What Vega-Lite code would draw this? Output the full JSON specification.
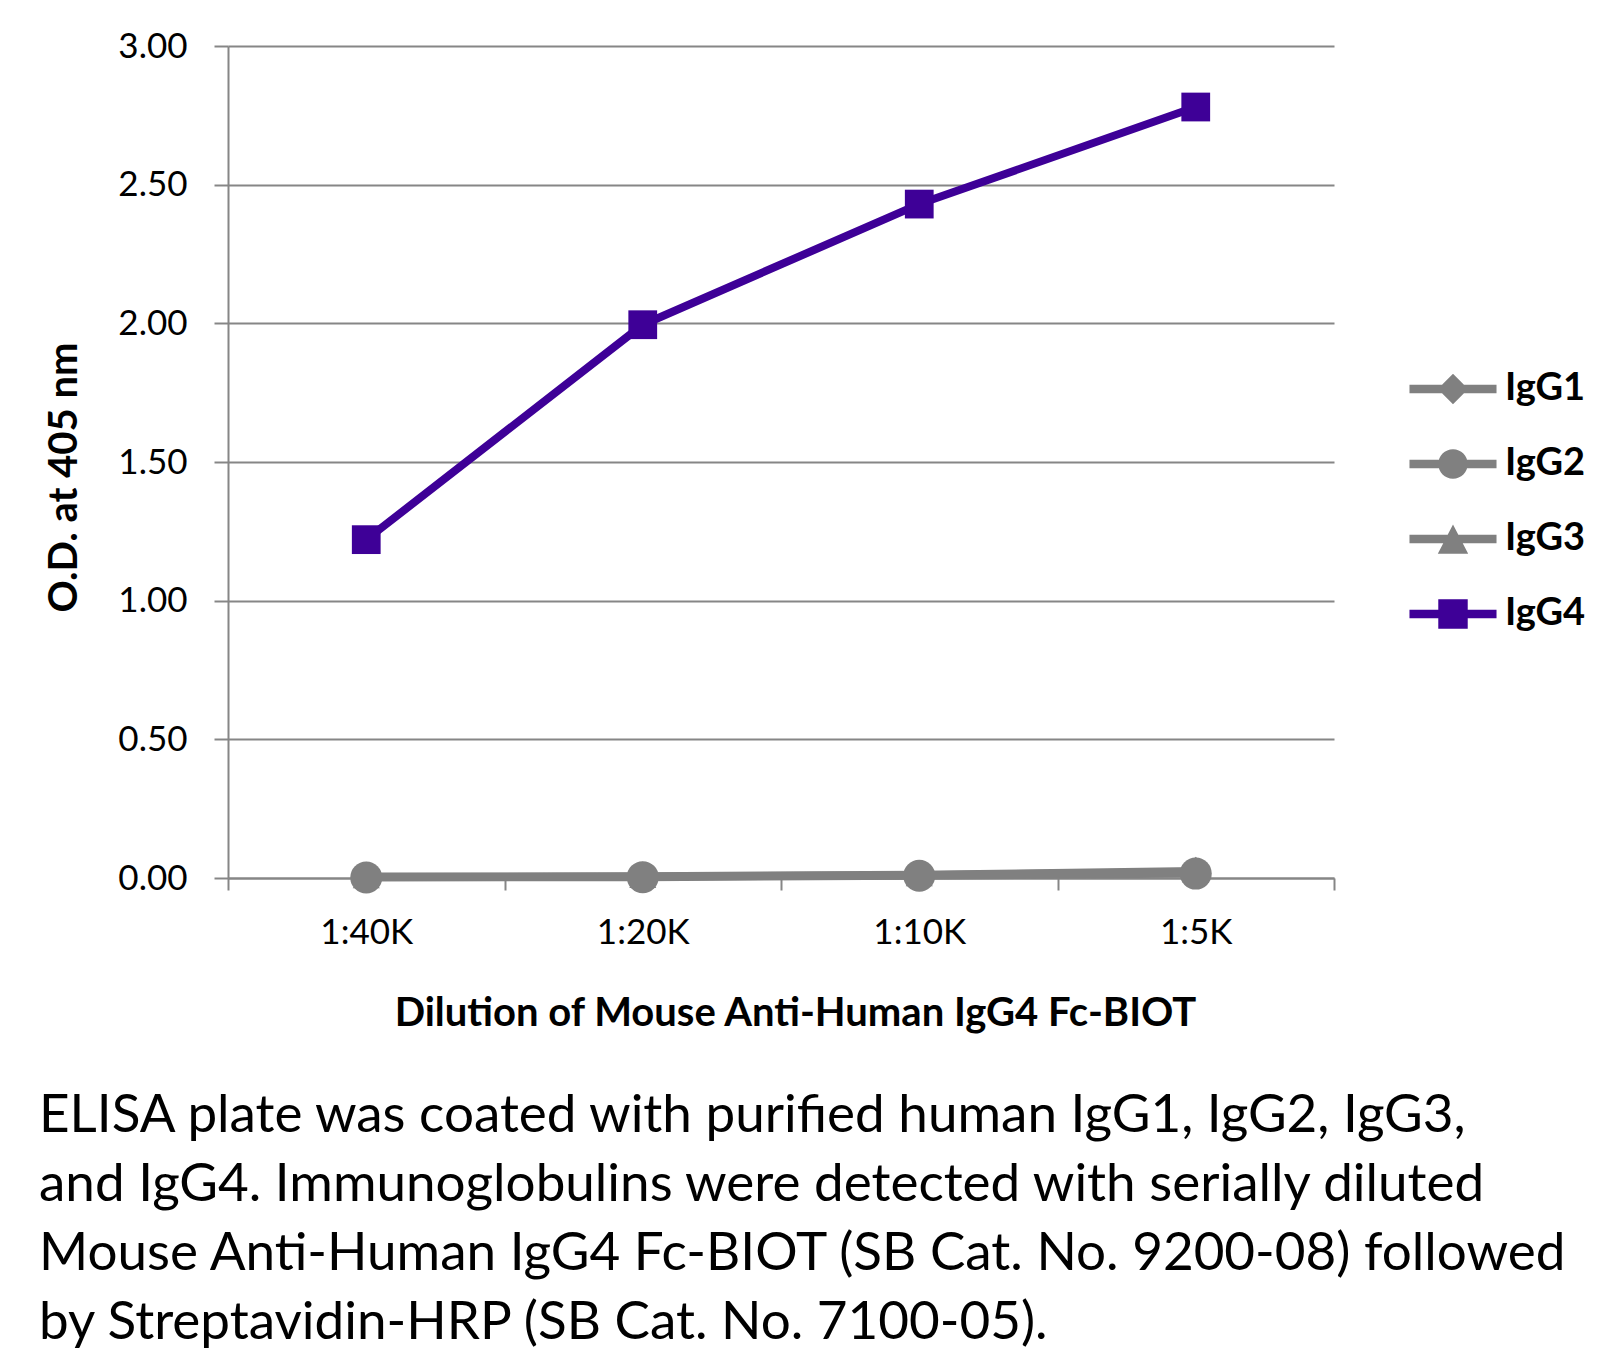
{
  "$schema": "https://vega.github.io/schema/vega-lite/v6.json",
  "width": 1106,
  "height": 832,
  "autosize": {"type": "none"},
  "padding": {"left": 228, "top": 46, "right": 284, "bottom": 478},
  "background": "white",
  "config": {
    "view": {"stroke": null},
    "font": "Lato"
  },
  "title": {
    "text": [
      "ELISA plate was coated with purified human IgG1, IgG2, IgG3,",
      "and IgG4.  Immunoglobulins were detected with serially diluted",
      "Mouse Anti-Human IgG4 Fc-BIOT (SB Cat. No. 9200-08) followed",
      "by Streptavidin-HRP (SB Cat. No. 7100-05)."
    ],
    "orient": "bottom",
    "anchor": "start",
    "frame": "group",
    "font": "Lato",
    "fontSize": 53,
    "fontWeight": "normal",
    "color": "black",
    "lineHeight": 69,
    "offset": 57,
    "dx": -189
  },
  "data": {
    "values": [
      {"dilution": "1:40K", "series": "IgG1", "od": 0.004},
      {"dilution": "1:20K", "series": "IgG1", "od": 0.005},
      {"dilution": "1:10K", "series": "IgG1", "od": 0.010},
      {"dilution": "1:5K", "series": "IgG1", "od": 0.022},
      {"dilution": "1:40K", "series": "IgG2", "od": 0.002},
      {"dilution": "1:20K", "series": "IgG2", "od": 0.003},
      {"dilution": "1:10K", "series": "IgG2", "od": 0.008},
      {"dilution": "1:5K", "series": "IgG2", "od": 0.016},
      {"dilution": "1:40K", "series": "IgG3", "od": 0.005},
      {"dilution": "1:20K", "series": "IgG3", "od": 0.006},
      {"dilution": "1:10K", "series": "IgG3", "od": 0.012},
      {"dilution": "1:5K", "series": "IgG3", "od": 0.025},
      {"dilution": "1:40K", "series": "IgG4", "od": 1.22},
      {"dilution": "1:20K", "series": "IgG4", "od": 1.995},
      {"dilution": "1:10K", "series": "IgG4", "od": 2.43},
      {"dilution": "1:5K", "series": "IgG4", "od": 2.78}
    ]
  },
  "encoding": {
    "x": {
      "field": "dilution",
      "type": "nominal",
      "sort": ["1:40K", "1:20K", "1:10K", "1:5K"],
      "scale": {"type": "band", "paddingInner": 0, "paddingOuter": 0},
      "axis": {
        "title": "Dilution of Mouse Anti-Human IgG4 Fc-BIOT",
        "titleFont": "Lato",
        "titleFontSize": 40,
        "titleFontWeight": "bold",
        "titleColor": "black",
        "titleX": 567,
        "titleY": 147,
        "titleBaseline": "alphabetic",
        "titleAlign": "center",
        "labelFont": "Lato",
        "labelFontSize": 35,
        "labelColor": "black",
        "labelAngle": 0,
        "labelPadding": 25,
        "labelBaseline": "top",
        "tickBand": "extent",
        "tickSize": 12,
        "tickWidth": 2,
        "tickColor": "#868686",
        "domainColor": "#868686",
        "domainWidth": 2,
        "grid": false
      }
    },
    "y": {
      "field": "od",
      "type": "quantitative",
      "scale": {"domain": [0, 3], "nice": false, "zero": true},
      "axis": {
        "title": "O.D. at 405 nm",
        "titleFont": "Lato",
        "titleFontSize": 40,
        "titleFontWeight": "bold",
        "titleColor": "black",
        "titleAngle": 270,
        "titleX": -164,
        "titleY": 431,
        "titleAlign": "center",
        "titleBaseline": "middle",
        "values": [0, 0.5, 1, 1.5, 2, 2.5, 3],
        "format": ".2f",
        "labelFont": "Lato",
        "labelFontSize": 35,
        "labelColor": "black",
        "labelPadding": 27,
        "tickSize": 14,
        "tickWidth": 2,
        "tickColor": "#868686",
        "domainColor": "#868686",
        "domainWidth": 2,
        "grid": true,
        "gridColor": "#868686",
        "gridWidth": 2
      }
    }
  },
  "layer": [
    {
      "mark": {"type": "line", "strokeWidth": 8, "strokeCap": "round", "strokeJoin": "round"},
      "encoding": {
        "color": {
          "field": "series",
          "type": "nominal",
          "scale": {
            "domain": ["IgG1", "IgG2", "IgG3", "IgG4"],
            "range": ["#808080", "#808080", "#808080", "#3e0097"]
          },
          "legend": {
            "title": null,
            "orient": "none",
            "legendX": 1206,
            "legendY": 324,
            "padding": 0,
            "symbolSize": 1024,
            "labelOffset": 33,
            "labelFont": "Lato",
            "labelFontSize": 38,
            "labelFontWeight": "bold",
            "labelColor": "black",
            "rowPadding": 37,
            "encode": {
              "symbols": {
                "update": {
                  "shape": {"signal": "datum.value === 'IgG1' ? 'M-2.72,-0.27H2.72V0.27H-2.72ZM0,-0.95L0.95,0L0,0.95L-0.95,0Z' : datum.value === 'IgG2' ? 'M-2.72,-0.27H2.72V0.27H-2.72ZM-0.92,0A0.92,0.92,0,1,1,0.92,0A0.92,0.92,0,1,1,-0.92,0Z' : datum.value === 'IgG3' ? 'M-2.72,-0.27H2.72V0.27H-2.72ZM0,-0.9L0.95,0.92L-0.95,0.92Z' : 'M-2.72,-0.27H2.72V0.27H-2.72ZM-0.92,-0.92H0.92V0.92H-0.92Z'"},
                  "fill": {"scale": "color", "field": "value"},
                  "stroke": {"value": "transparent"},
                  "strokeWidth": {"value": 0},
                  "size": {"value": 1024},
                  "opacity": {"value": 1}
                }
              }
            }
          }
        }
      }
    },
    {
      "mark": {"type": "point", "filled": true, "opacity": 1},
      "encoding": {
        "fill": {
          "field": "series",
          "type": "nominal",
          "scale": {
            "domain": ["IgG4", "IgG3", "IgG2", "IgG1"],
            "range": ["#3e0097", "#808080", "#808080", "#808080"]
          },
          "legend": null
        },
        "shape": {
          "field": "series",
          "type": "nominal",
          "scale": {
            "domain": ["IgG4", "IgG3", "IgG2", "IgG1"],
            "range": ["square", "triangle-up", "circle", "diamond"]
          },
          "legend": null
        },
        "size": {
          "field": "series",
          "type": "nominal",
          "scale": {
            "domain": ["IgG3", "IgG4", "IgG1", "IgG2"],
            "range": [729, 1024, 729, 784]
          },
          "legend": null
        }
      }
    }
  ]
}
